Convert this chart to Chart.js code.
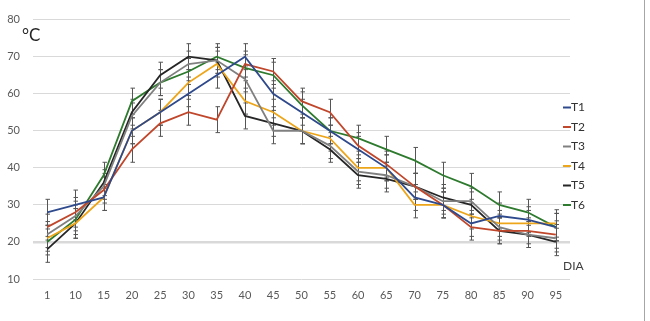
<!DOCTYPE html>
<html>
<head>
<meta charset="utf-8">
<script src="https://cdn.jsdelivr.net/npm/chart.js@4/dist/chart.umd.min.js"></script>
<style>
  html, body { margin: 0; padding: 0; background: #fff; }
</style>
</head>
<body>
<canvas id="tempChart" width="650" height="321"></canvas>
<script>
// dias de medicion
var dias = ['1', '10', '15', '20', '25', '30', '35', '40', '45', '50', '55', '60', '65', '70', '75', '80', '85', '90', '95'];

// temperatura (°C) por tratamiento
var t1 = [28, 30, 32, 50, 55, 60, 65, 70, 60, 55, 50, 45, 40, 32, 30, 25, 27, 26, 24];
var t2 = [24, 28, 34, 45, 52, 55, 53, 68, 66, 58, 55, 46, 41, 35, 30, 24, 23, 23, 22];
var t3 = [22, 27, 35, 54, 63, 68, 69, 64, 50, 50, 46, 39, 38, 35, 31, 31, 24, 22, 21];
var t4 = [21, 25, 32, 50, 55, 63, 68, 58, 55, 50, 48, 40, 40, 30, 30, 27, 25, 25, 25];
var t5 = [18, 25, 36, 55, 65, 70, 69, 54, 52, 50, 45, 38, 37, 35, 32, 30, 23, 22, 20];
var t6 = [20, 26, 38, 58, 63, 66, 70, 67, 65, 57, 50, 48, 45, 42, 38, 35, 30, 28, 24];

// desviacion (+/-) de las barras de error por dia
var errorBar = [3.5, 4, 3.5, 3.5, 3.5, 3.5, 3.5, 3.5, 3.5, 3.5, 3.5, 3.5, 3.5, 3.5, 3.5, 3.5, 3.5, 3.5, 3.7];

var yTicks = [10, 20, 30, 40, 50, 60, 70, 80];

var series = [
    { label: 'T1', data: t1, color: '#2f4a8c' },
    { label: 'T2', data: t2, color: '#c0472b' },
    { label: 'T3', data: t3, color: '#808080' },
    { label: 'T4', data: t4, color: '#eda51a' },
    { label: 'T5', data: t5, color: '#262626' },
    { label: 'T6', data: t6, color: '#2e7a2e' }
];

var fontFam = 'Lato, "Open Sans", sans-serif';

// barras de error, leyenda y textos extra
var extrasPlugin = {
    id: 'extras',
    beforeDatasetsDraw: function (chart) {
        var ctx = chart.ctx;
        var yScale = chart.scales.y;
        ctx.save();
        ctx.strokeStyle = '#555';
        ctx.lineWidth = 1;
        chart.data.datasets.forEach(function (ds, i) {
            var meta = chart.getDatasetMeta(i);
            meta.data.forEach(function (pt, j) {
                var v = ds.data[j];
                var top = yScale.getPixelForValue(v + errorBar[j]);
                var bot = yScale.getPixelForValue(v - errorBar[j]);
                var x = Math.round(pt.x) + 0.5;
                ctx.beginPath();
                ctx.moveTo(x, top);
                ctx.lineTo(x, bot);
                ctx.moveTo(x - 2, top);
                ctx.lineTo(x + 2.5, top);
                ctx.moveTo(x - 2, bot);
                ctx.lineTo(x + 2.5, bot);
                ctx.stroke();
            });
        });
        ctx.restore();
    },
    afterDraw: function (chart) {
        var ctx = chart.ctx;
        ctx.save();
        // leyenda
        ctx.font = '12px ' + fontFam;
        ctx.textBaseline = 'middle';
        ctx.textAlign = 'left';
        chart.data.datasets.forEach(function (ds, i) {
            var y = 107.5 + i * 19.5;
            ctx.strokeStyle = ds.borderColor;
            ctx.lineWidth = 2;
            ctx.beginPath();
            ctx.moveTo(563, y);
            ctx.lineTo(571, y);
            ctx.stroke();
            ctx.fillStyle = '#333';
            ctx.fillText(ds.label, 571, y);
        });
        // unidad y titulo de eje
        ctx.fillStyle = '#262626';
        ctx.font = '17px ' + fontFam;
        ctx.fillText('°C', 22, 36);
        ctx.fillStyle = '#404040';
        ctx.font = '12px ' + fontFam;
        ctx.fillText('DIA', 563, 266);
        // borde derecho
        ctx.strokeStyle = '#a6a6a6';
        ctx.lineWidth = 1;
        ctx.beginPath();
        ctx.moveTo(644.5, 0);
        ctx.lineTo(644.5, 321);
        ctx.stroke();
        ctx.restore();
    }
};

var ctx1 = document.getElementById('tempChart').getContext('2d');
var tempChart = new Chart(ctx1, {
    type: 'line',
    data: {
        labels: dias,
        datasets: series.map(function (s) {
            return {
                label: s.label,
                data: s.data,
                borderColor: s.color,
                backgroundColor: s.color,
                borderWidth: 1.8,
                pointRadius: 0,
                tension: 0,
                fill: false
            };
        })
    },
    options: {
        responsive: false,
        animation: false,
        layout: { padding: { top: 13, right: 80, bottom: 0, left: 0 } },
        plugins: {
            legend: { display: false },
            tooltip: { enabled: false }
        },
        scales: {
            x: {
                offset: true,
                grid: { display: false, drawTicks: false },
                border: { display: false },
                ticks: { color: '#595959', font: { family: fontFam, size: 11 }, padding: 10, maxRotation: 0 },
                afterFit: function (scale) { scale.height = 42; }
            },
            y: {
                min: yTicks[0],
                max: yTicks[yTicks.length - 1],
                afterBuildTicks: function (scale) {
                    scale.ticks = yTicks.map(function (v) { return { value: v }; });
                },
                grid: {
                    drawTicks: false,
                    color: '#d9d9d9',
                    lineWidth: function (c) { return c.tick && c.tick.value === 20 ? 2.5 : 1; }
                },
                border: { display: false },
                ticks: { color: '#595959', font: { family: fontFam, size: 11 }, padding: 13 },
                afterFit: function (scale) { scale.width = 33; }
            }
        }
    },
    plugins: [extrasPlugin]
});
</script>
</body>
</html>
